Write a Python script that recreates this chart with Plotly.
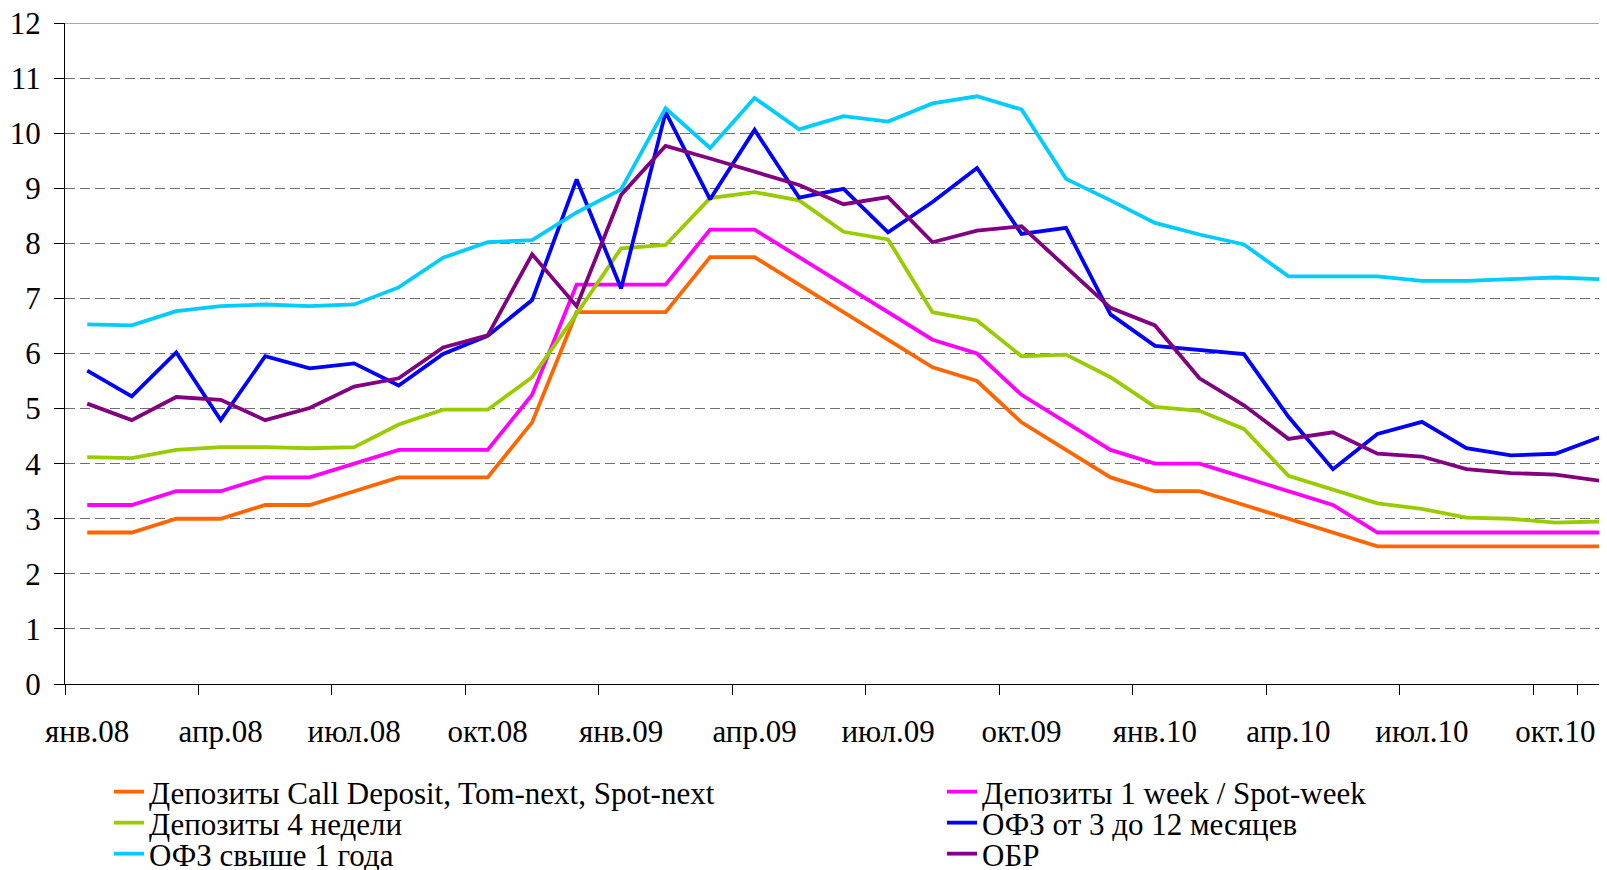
import plotly.graph_objects as go

months = ["янв.08", "фев.08", "мар.08", "апр.08", "май.08", "июн.08", "июл.08", "авг.08", "сен.08", "окт.08", "ноя.08", "дек.08",
          "янв.09", "фев.09", "мар.09", "апр.09", "май.09", "июн.09", "июл.09", "авг.09", "сен.09", "окт.09", "ноя.09", "дек.09",
          "янв.10", "фев.10", "мар.10", "апр.10", "май.10", "июн.10", "июл.10", "авг.10", "сен.10", "окт.10", "ноя.10"]

tick_labels = months[::3]

call_deposit = [2.75, 2.75, 3.0, 3.0, 3.25, 3.25, 3.5, 3.75, 3.75, 3.75, 4.75, 6.75,
                6.75, 6.75, 7.75, 7.75, 7.25, 6.75, 6.25, 5.75, 5.5, 4.75, 4.25, 3.75,
                3.5, 3.5, 3.25, 3.0, 2.75, 2.5, 2.5, 2.5, 2.5, 2.5, 2.5]
week_deposit = [3.25, 3.25, 3.5, 3.5, 3.75, 3.75, 4.0, 4.25, 4.25, 4.25, 5.25, 7.25,
                7.25, 7.25, 8.25, 8.25, 7.75, 7.25, 6.75, 6.25, 6.0, 5.25, 4.75, 4.25,
                4.0, 4.0, 3.75, 3.5, 3.25, 2.75, 2.75, 2.75, 2.75, 2.75, 2.75]
four_weeks = [4.12, 4.10, 4.25, 4.30, 4.30, 4.28, 4.30, 4.71, 4.98, 4.98, 5.57, 6.72,
              7.91, 7.97, 8.82, 8.93, 8.78, 8.21, 8.07, 6.75, 6.60, 5.95, 5.98, 5.57,
              5.03, 4.96, 4.63, 3.78, 3.53, 3.28, 3.18, 3.02, 3.00, 2.93, 2.95]
ofz_3_12 = [5.69, 5.22, 6.02, 4.79, 5.95, 5.73, 5.82, 5.42, 5.99, 6.32, 6.97, 9.16,
            7.18, 10.38, 8.80, 10.06, 8.83, 8.99, 8.20, 8.75, 9.37, 8.17, 8.28, 6.71,
            6.14, 6.06, 5.99, 4.85, 3.90, 4.54, 4.76, 4.28, 4.15, 4.18, 4.48]
ofz_1y = [6.53, 6.51, 6.77, 6.86, 6.89, 6.86, 6.89, 7.20, 7.74, 8.02, 8.06, 8.56,
          8.98, 10.45, 9.73, 10.64, 10.07, 10.31, 10.21, 10.54, 10.67, 10.43, 9.17, 8.78,
          8.37, 8.16, 7.98, 7.40, 7.40, 7.40, 7.32, 7.32, 7.35, 7.38, 7.35]
obr = [5.09, 4.79, 5.21, 5.16, 4.79, 5.01, 5.40, 5.55, 6.11, 6.33, 7.80, 6.86,
       8.88, 9.77, 9.54, 9.30, 9.06, 8.71, 8.84, 8.02, 8.23, 8.31, 7.57, 6.83,
       6.51, 5.55, 5.06, 4.45, 4.57, 4.18, 4.13, 3.90, 3.83, 3.80, 3.69]

series = [
    ("Депозиты Call Deposit, Tom-next, Spot-next", call_deposit, "#FF6600", "legend"),
    ("Депозиты 1 week / Spot-week", week_deposit, "#FF00FF", "legend2"),
    ("Депозиты 4 недели", four_weeks, "#99CC00", "legend3"),
    ("ОФЗ от 3 до 12 месяцев", ofz_3_12, "#0000FF", "legend4"),
    ("ОФЗ свыше 1 года", ofz_1y, "#00CCFF", "legend5"),
    ("ОБР", obr, "#800080", "legend6"),
]

FONT = "Liberation Serif, Times New Roman, serif"
# the page body adds an 8px margin, so the figure is 8px smaller than the window
W, H = 1599, 862
TICK_SIZE = 31
LEG_SIZE = 31

fig = go.Figure()
for name, vals, color, lg in series:
    fig.add_trace(go.Scatter(x=months, y=vals, name=name, mode="lines",
                             line=dict(color=color, width=3.8), legend=lg))

# legend positions (px from left / top of the figure)
leg_pos = {
    "legend": (101, 784), "legend2": (934, 784),
    "legend3": (101, 815), "legend4": (934, 815),
    "legend5": (101, 846), "legend6": (934, 846),
}
legends = {}
for key, (px, py) in leg_pos.items():
    legends[key] = dict(x=px / W, y=1 - py / H, xref="container", yref="container",
                        xanchor="left", yanchor="middle", bgcolor="rgba(0,0,0,0)",
                        font=dict(family=FONT, size=LEG_SIZE, color="black"),
                        borderwidth=0)

fig.update_layout(
    width=W, height=H,
    margin=dict(l=57, r=0, t=15, b=186, autoexpand=False),
    plot_bgcolor="white", paper_bgcolor="white",
    font=dict(family=FONT, size=TICK_SIZE, color="black"),
    showlegend=True,
    **legends,
)

fig.update_xaxes(
    type="category", range=[-0.5, 34.16],
    tickmode="array", tickvals=tick_labels, ticktext=tick_labels, tickangle=0,
    tickson="boundaries", ticks="outside", ticklen=10, tickcolor="black", tickwidth=1,
    showgrid=False, showline=True, linecolor="black", linewidth=1.3,
    ticklabelstandoff=20, ticklabeloverflow="allow",
    tickfont=dict(family=FONT, size=TICK_SIZE, color="black"),
)
fig.update_yaxes(
    range=[0, 12], tickmode="linear", tick0=0, dtick=1,
    ticks="outside", ticklen=10, tickcolor="black", tickwidth=1,
    showgrid=True, gridcolor="#707070", griddash="10px,5px", gridwidth=1,
    zeroline=False, showline=True, linecolor="black", linewidth=1.3,
    ticklabelstandoff=7, ticklabeloverflow="allow",
    tickfont=dict(family=FONT, size=TICK_SIZE, color="black"),
)

fig.add_shape(type="line", xref="paper", yref="y", x0=0, x1=1, y0=12, y1=12,
              line=dict(color="#8c8c8c", width=1.3), layer="below")

fig.write_html("out.html")
